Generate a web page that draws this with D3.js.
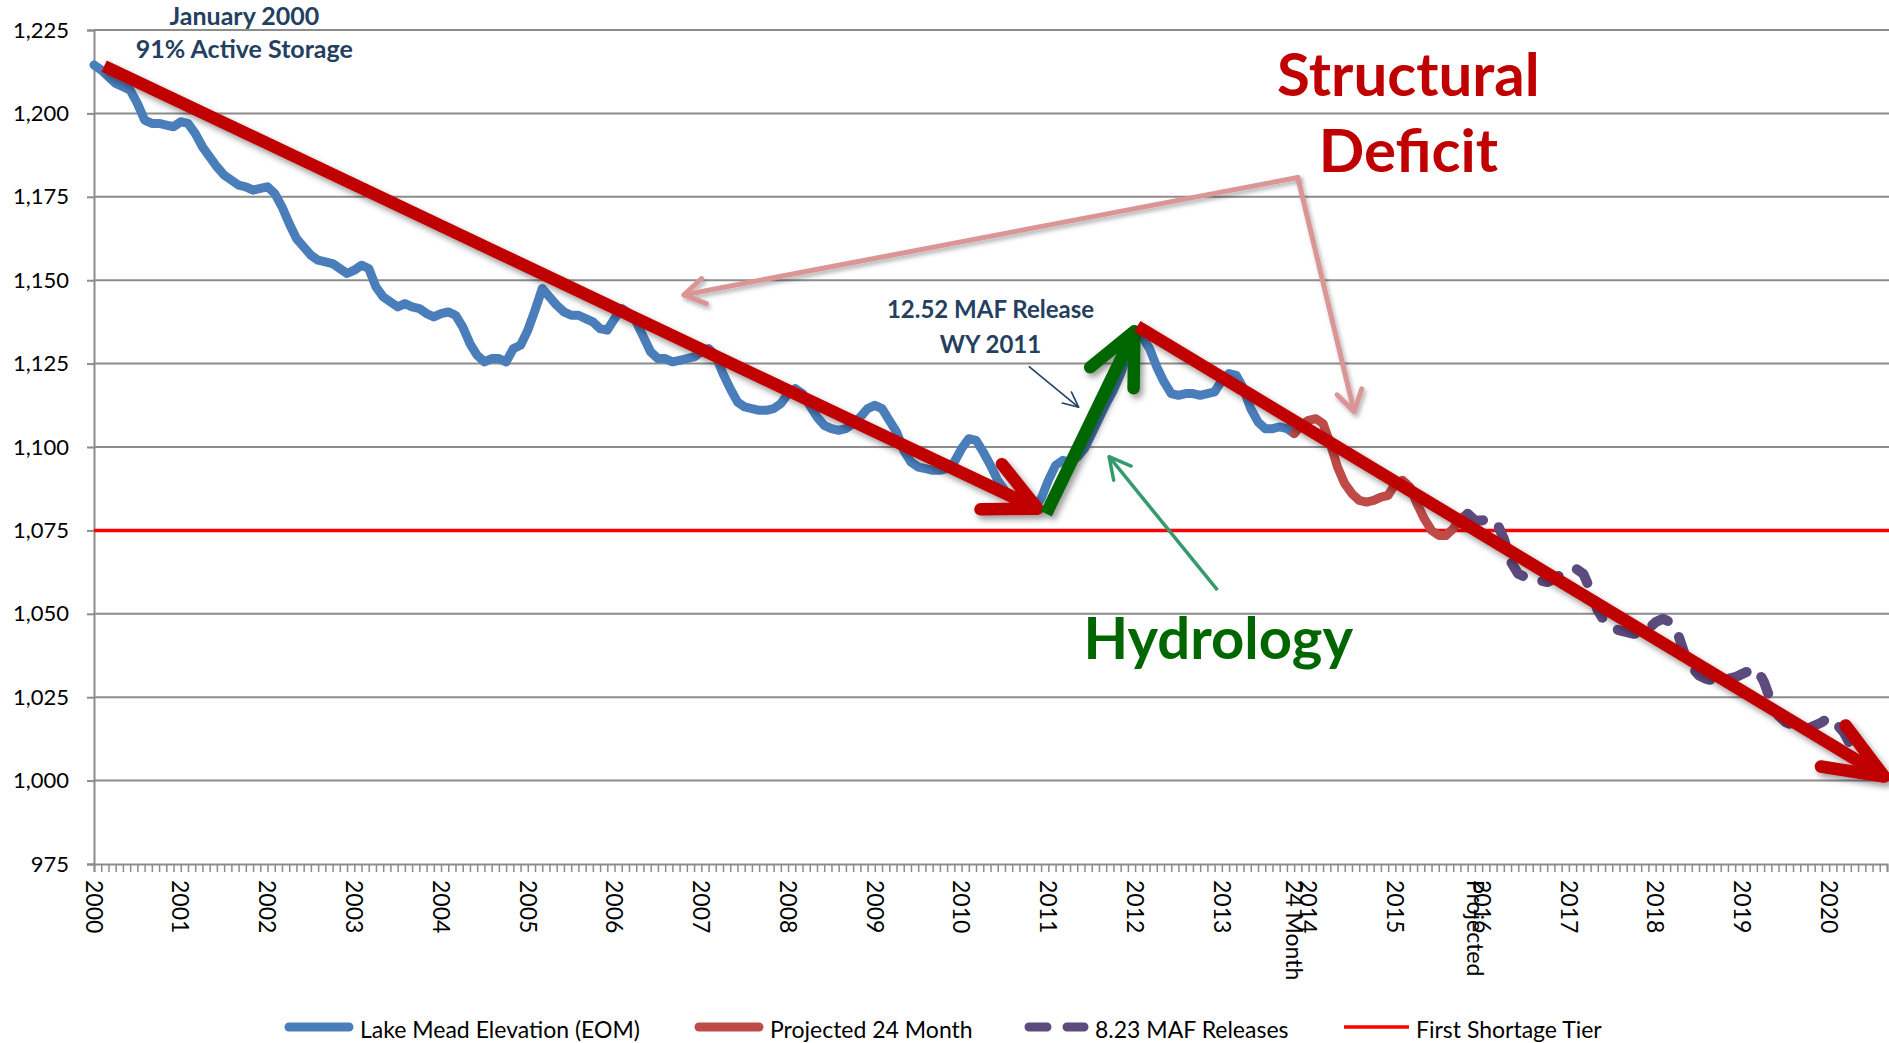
<!DOCTYPE html>
<html>
<head>
<meta charset="utf-8">
<script src="https://cdn.jsdelivr.net/npm/d3@7"></script>
<style>
  html, body { margin: 0; padding: 0; background: #fff; }
  svg { display: block; font-family: Lato, "Open Sans", sans-serif; }
</style>
</head>
<body>
<svg id="chart" width="1889" height="1043"></svg>
<script>
"use strict";

// ── data (month index 0 = Jan 2000) ──────────────────────────────────────────
const yearLabels  = ["2000","2001","2002","2003","2004","2005","2006","2007","2008","2009","2010",
                     "2011","2012","2013","2014","2015","2016","2017","2018","2019","2020"];
const extraLabelMonths = [166, 191];
const extraLabelTexts  = ["24 Month", "Projected"];
const yTicks = [975, 1000, 1025, 1050, 1075, 1100, 1125, 1150, 1175, 1200, 1225];
const lastMonth = 248;
const shortageTier = 1075;

const blueStart = 0;
const blueElev = [
  1214.5,1213,1211,1209,1208,1207,1203,1198,1197,1197,1196.5,1196,
  1197.5,1197,1194,1190,1187,1184,1181.5,1180,1178.5,1178,1177,1177.5,
  1178,1176,1172,1167,1162.5,1160,1157.5,1156,1155.5,1155,1153.5,1152,
  1153,1154.5,1153.5,1148,1145,1143.5,1142,1143,1142,1141.5,1140,1139,
  1140,1140.5,1139.5,1136,1131,1127.5,1125.5,1126.5,1126.5,1125.5,1129.5,1130.5,
  1135,1141,1147.5,1145,1142.5,1140.5,1139.5,1139.5,1138.5,1137.5,1135.5,1135,
  1138.5,1141.5,1140,1137.5,1133,1128.5,1126.5,1126.5,1125.5,1126,1126.5,1127,
  1128.5,1129.5,1127.5,1122,1117.5,1113.5,1112,1111.5,1111,1111,1111.5,1113,
  1116,1117.5,1116,1112.5,1109,1106.5,1105.5,1105,1105.5,1107,1109,1111.5,
  1112.5,1111.5,1108,1104.5,1099,1095.5,1094,1093.5,1093,1093,1093.5,1095.5,
  1099.5,1102.5,1102,1098.5,1094.5,1090,1087,1084.5,1083,1082,1081.5,1084.5,
  1090,1094.5,1096,1095.5,1097,1099.5,1104,1108.5,1113,1117,1122,1128.5,
  1133,1133,1129.5,1124,1119.5,1116,1115.5,1116,1116,1115.5,1116,1116.5,
  1120,1122,1121.5,1117.5,1111.5,1107.5,1105.5,1105.5,1106,1105.5,1104
];

const projStart = 166;
const projected24 = [
  1104,1106.5,1108,1108.5,1107,1101,1094,1089,1086,1084,1083.5,1084,
  1085,1085.5,1089,1090,1088,1083,1078.5,1075,1073.5,1073.5,1075.5,1078.5,1080
];

const mafStart = 190;
const maf823 = [
  1080,1078,1078,1078.5,1077.5,1072.5,1065.5,1062,1061,1060.5,
  1060,1059.5,1060.5,1062,1063,1063.5,1062,1057,1051,1047.5,
  1046,1045,1044.5,1044,1044,1045.5,1047.5,1048.5,1047.5,1044.5,
  1038,1034,1031.5,1030.5,1030,1030,1030.5,1031,1032,1033,
  1033.5,1029.5,1023.5,1019.5,1017.5,1016.5,1015.5,1015.5,1016.5,1017.5,
  1019,1017,1014.5,1010.5,1006.5,1003.5,1002,1001.5,1001
];

// annotation anchors in data space: [month, elevation]
const deficitArrows  = [[[1.4, 1214.2], [130.5, 1081.5]], [[144.3, 1136.2], [247.6, 1001.2]]];
const hydroArrow     = [[131.7, 1080], [143.9, 1134.7]];
const pinkApex       = [166.5, 1180.8];
const pinkTips       = [[81.6, 1145.6], [174.3, 1110.6]];
const releasePointer = [[129.3, 1124.2], [136.2, 1111.9]];
const hydroPointer   = [[155.4, 1057.1], [140.4, 1097.1]];

const legendNames = ["Lake Mead Elevation (EOM)", "Projected 24 Month", "8.23 MAF Releases", "First Shortage Tier"];

// ── layout ────────────────────────────────────────────────────────────────────
const W = 1889, H = 1043;
const plot = { left: 94, right: 1887, top: 30, bottom: 864 };
const COLORS = {
  blue: "#4a7ebb", proj: "#be4b48", maf: "#5e4b7d", tier: "#ff0000",
  deficit: "#c00000", hydro: "#006600", pink: "#d99694", note: "#243f60",
  teal: "#359a6c", grid: "#8c8c8c"
};

const svg = d3.select("#chart");
const x = d3.scaleLinear().domain([0, lastMonth]).range([plot.left, plot.right]);
const y = d3.scaleLinear().domain([975, 1225]).range([plot.bottom, plot.top]);

// drop shadow for annotation arrows
const defs = svg.append("defs");
const f = defs.append("filter").attr("id", "shadow").attr("filterUnits", "userSpaceOnUse")
  .attr("x", 0).attr("y", 0).attr("width", W).attr("height", H);
f.append("feDropShadow").attr("dx", 3).attr("dy", 4).attr("stdDeviation", 3)
  .attr("flood-color", "#000").attr("flood-opacity", 0.4);
const fs = defs.append("filter").attr("id", "shadowSoft").attr("filterUnits", "userSpaceOnUse")
  .attr("x", 0).attr("y", 0).attr("width", W).attr("height", H);
fs.append("feDropShadow").attr("dx", 2).attr("dy", 3).attr("stdDeviation", 2)
  .attr("flood-color", "#000").attr("flood-opacity", 0.3);

// ── grid + y axis ────────────────────────────────────────────────────────────
svg.append("g")
  .attr("transform", `translate(${plot.left},0)`)
  .call(d3.axisLeft(y).tickValues(yTicks).tickSize(7).tickFormat(d3.format(",")))
  .call(ax => {
    ax.select(".domain").attr("stroke", COLORS.grid).attr("stroke-width", 2);
    ax.selectAll(".tick line").attr("stroke", COLORS.grid).attr("stroke-width", 2);
    ax.selectAll(".tick text").attr("font-size", 22).attr("fill", "#000")
      .attr("font-family", "Lato, sans-serif").attr("x", -25);
  });

svg.append("g").selectAll("line").data(yTicks.slice(1)).join("line")
  .attr("x1", plot.left).attr("x2", W)
  .attr("y1", d => y(d)).attr("y2", d => y(d))
  .attr("stroke", COLORS.grid).attr("stroke-width", 2);

// ── x axis: monthly ticks, labels each January ──────────────────────────────
const months = d3.range(0, lastMonth + 1);
svg.append("g")
  .attr("transform", `translate(0,${plot.bottom})`)
  .call(d3.axisBottom(x).tickValues(months).tickSize(8).tickFormat(""))
  .call(ax => {
    ax.select(".domain").attr("stroke", COLORS.grid).attr("stroke-width", 2);
    ax.selectAll(".tick line").attr("stroke", COLORS.grid).attr("stroke-width", 1.5);
  });

const xLabels = yearLabels.map((t, i) => ({ m: i * 12, text: t }))
  .concat(extraLabelMonths.map((m, i) => ({ m, text: extraLabelTexts[i] })));
svg.append("g").selectAll("text").data(xLabels).join("text")
  .attr("transform", d => `translate(${x(d.m)},${plot.bottom + 16}) rotate(90)`)
  .attr("dy", "0.36em")
  .attr("font-size", 23).attr("fill", "#000")
  .text(d => d.text);

// ── series ────────────────────────────────────────────────────────────────────
const line = d3.line().x(d => x(d.m)).y(d => y(d.v));
const toPts = (start, arr) => arr.map((v, i) => ({ m: start + i, v }));

svg.append("line")
  .attr("x1", plot.left).attr("x2", W)
  .attr("y1", y(shortageTier)).attr("y2", y(shortageTier))
  .attr("stroke", COLORS.tier).attr("stroke-width", 3.5);

svg.append("path").datum(toPts(blueStart, blueElev))
  .attr("d", line).attr("fill", "none").attr("stroke", COLORS.blue)
  .attr("stroke-width", 9).attr("stroke-linejoin", "round").attr("stroke-linecap", "round");

svg.append("path").datum(toPts(projStart, projected24))
  .attr("d", line).attr("fill", "none").attr("stroke", COLORS.proj)
  .attr("stroke-width", 9).attr("stroke-linejoin", "round").attr("stroke-linecap", "round");

svg.append("path").datum(toPts(mafStart, maf823))
  .attr("d", line).attr("fill", "none").attr("stroke", COLORS.maf)
  .attr("stroke-width", 10).attr("stroke-linejoin", "round").attr("stroke-linecap", "round")
  .attr("stroke-dasharray", "18 20");

// ── annotation arrows ────────────────────────────────────────────────────────
const P = d => [x(d[0]), y(d[1])];

function headPath(tail, tip, len, angDeg) {
  const a = Math.atan2(tail[1] - tip[1], tail[0] - tip[0]);
  const r = angDeg * Math.PI / 180;
  const p1 = [tip[0] + len * Math.cos(a + r), tip[1] + len * Math.sin(a + r)];
  const p2 = [tip[0] + len * Math.cos(a - r), tip[1] + len * Math.sin(a - r)];
  return `M${p1}L${tip}L${p2}`;
}

function arrow(g, from, to, opt) {
  const a = P(from), b = P(to);
  const grp = g.append("g").attr("filter", opt.filter || null);
  grp.append("line")
    .attr("x1", a[0]).attr("y1", a[1]).attr("x2", b[0]).attr("y2", b[1])
    .attr("stroke", opt.color).attr("stroke-width", opt.width)
    .attr("stroke-linecap", opt.cap || "butt");
  grp.append("path").attr("d", headPath(a, b, opt.len, opt.ang))
    .attr("fill", "none").attr("stroke", opt.color).attr("stroke-width", opt.width)
    .attr("stroke-linecap", "round").attr("stroke-linejoin", "round");
}

const notes = svg.append("g");

// pink "structural deficit" pointers from a common apex
pinkTips.forEach(t => arrow(notes, pinkApex, t,
  { color: COLORS.pink, width: 5, len: 24, ang: 32, cap: "round", filter: "url(#shadowSoft)" }));

arrow(notes, deficitArrows[0][0], deficitArrows[0][1],
  { color: COLORS.deficit, width: 12.5, len: 57, ang: 26, filter: "url(#shadow)" });
arrow(notes, hydroArrow[0], hydroArrow[1],
  { color: COLORS.hydro, width: 12.5, len: 57, ang: 25, filter: "url(#shadow)" });
arrow(notes, deficitArrows[1][0], deficitArrows[1][1],
  { color: COLORS.deficit, width: 12.5, len: 64, ang: 22, filter: "url(#shadow)" });

arrow(notes, releasePointer[0], releasePointer[1],
  { color: COLORS.note, width: 1.6, len: 17, ang: 25 });
arrow(notes, hydroPointer[0], hydroPointer[1],
  { color: COLORS.teal, width: 3.5, len: 24, ang: 28 });

// ── annotation text ──────────────────────────────────────────────────────────
const textNotes = [
  { m: 20.8,  v: 1226.6, text: "January 2000",       size: 25, color: COLORS.note },
  { m: 20.8,  v: 1216.7, text: "91% Active Storage", size: 25, color: COLORS.note },
  { m: 124.0, v: 1138.7, text: "12.52 MAF Release",  size: 24, color: COLORS.note },
  { m: 124.0, v: 1128.1, text: "WY 2011",            size: 24, color: COLORS.note },
  { m: 181.8, v: 1205.2, text: "Structural",         size: 60, color: COLORS.deficit },
  { m: 181.8, v: 1182.3, text: "Deficit",            size: 60, color: COLORS.deficit },
  { m: 155.5, v: 1036.4, text: "Hydrology",          size: 58, color: COLORS.hydro }
];
svg.append("g").selectAll("text").data(textNotes).join("text")
  .attr("x", d => x(d.m)).attr("y", d => y(d.v))
  .attr("text-anchor", "middle").attr("font-weight", 700)
  .attr("font-size", d => d.size).attr("fill", d => d.color)
  .text(d => d.text);

// ── legend ────────────────────────────────────────────────────────────────────
const legendX = [285, 695, 1025, 1344];
const legendStyles = [
  { color: COLORS.blue, width: 9, dash: null, len: 68 },
  { color: COLORS.proj, width: 9, dash: null, len: 68 },
  { color: COLORS.maf,  width: 9, dash: "18 20", len: 63 },
  { color: COLORS.tier, width: 3.5, dash: null, len: 65 }
];
const legendY = 1027;
const lg = svg.append("g").selectAll("g").data(legendNames).join("g")
  .attr("transform", (d, i) => `translate(${legendX[i]},${legendY})`);
lg.append("line")
  .attr("x1", (d, i) => legendStyles[i].width > 5 ? 4 : 0)
  .attr("x2", (d, i) => legendStyles[i].len - (legendStyles[i].width > 5 ? 4 : 0))
  .attr("stroke", (d, i) => legendStyles[i].color)
  .attr("stroke-width", (d, i) => legendStyles[i].width)
  .attr("stroke-linecap", (d, i) => legendStyles[i].width > 5 ? "round" : "butt")
  .attr("stroke-dasharray", (d, i) => legendStyles[i].dash);
lg.append("text")
  .attr("x", (d, i) => legendStyles[i].len + 7).attr("y", 11)
  .attr("font-size", 23).attr("fill", "#000")
  .text(d => d);
</script>
</body>
</html>
